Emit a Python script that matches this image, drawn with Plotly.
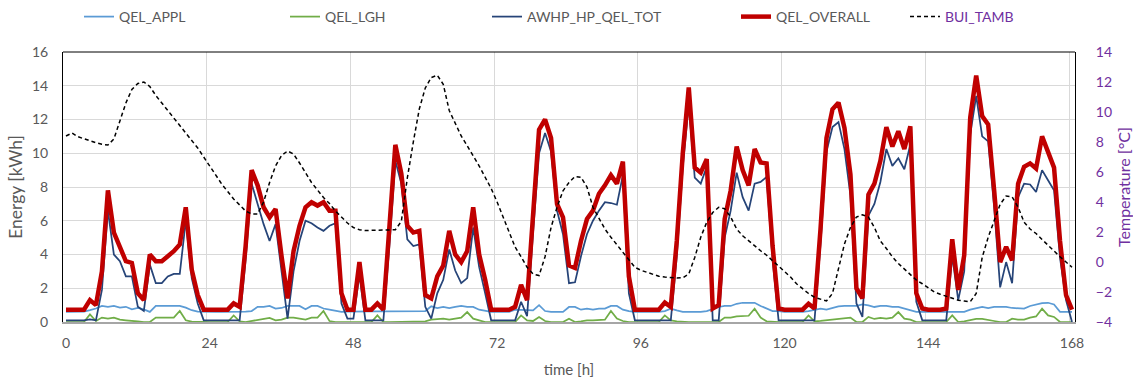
import plotly.graph_objects as go

hours = list(range(0, 169))

qel_appl = [0.6, 0.6, 0.6, 0.62, 0.7, 0.8, 0.95, 0.9, 0.95, 0.85, 0.9, 0.75, 0.83, 0.75, 0.6, 0.95, 0.95, 0.95, 0.95, 0.95, 0.85, 0.7, 0.62, 0.6,
            0.6, 0.6, 0.6, 0.6, 0.6, 0.6, 0.62, 0.65, 0.9, 0.9, 0.95, 0.8, 0.83, 0.95, 0.95, 0.95, 0.75, 0.95, 0.95, 0.8, 0.73, 0.65, 0.6, 0.62,
            0.63, 0.63, 0.63, 0.63, 0.63, 0.63, 0.63, 0.63, 0.63, 0.63, 0.63, 0.63, 0.65, 0.93, 0.83, 0.89, 0.83, 0.89, 0.95, 0.89, 0.89, 0.73, 0.65, 0.6,
            0.6, 0.6, 0.6, 0.73, 0.73, 0.73, 0.69, 1.0, 0.65, 0.6, 0.6, 0.6, 0.89, 0.89, 0.73, 0.79, 0.73, 0.79, 0.79, 0.95, 0.95, 0.73, 0.65, 0.6,
            0.6, 0.6, 0.6, 0.6, 0.65, 0.79, 0.69, 0.6, 0.6, 0.6, 0.6, 0.65, 0.79, 0.89, 0.95, 0.95, 1.08, 1.14, 1.14, 1.14, 0.95, 0.79, 0.65, 0.65,
            0.6, 0.6, 0.6, 0.6, 0.65, 0.73, 0.79, 0.73, 0.83, 0.93, 0.95, 0.95, 0.95, 1.04, 0.99, 0.89, 0.95, 0.95, 0.89, 0.89, 0.79, 0.69, 0.6, 0.6,
            0.6, 0.6, 0.6, 0.6, 0.6, 0.6, 0.6, 0.73, 0.83, 0.89, 0.83, 0.89, 0.89, 0.89, 0.83, 0.79, 0.79, 0.95, 1.04, 1.12, 1.14, 1.04, 0.6, 0.6,
            0.6]

qel_lgh = [0, 0, 0, 0, 0.45, 0.06, 0.26, 0.2, 0.26, 0.14, 0.1, 0.05, 0.03, 0, 0, 0.26, 0.26, 0.26, 0.26, 0.65, 0.1, 0.02, 0, 0,
           0, 0, 0, 0, 0.39, 0.04, 0, 0.06, 0.1, 0.18, 0.24, 0.1, 0.14, 0.26, 0.26, 0.2, 0.14, 0.26, 0.26, 0.65, 0.06, 0, 0, 0,
           0, 0, 0, 0, 0.39, 0, 0, 0, 0, 0, 0, 0.04, 0.04, 0.14, 0.18, 0.2, 0.14, 0.2, 0.26, 0.59, 0.2, 0.1, 0, 0,
           0, 0, 0, 0, 0.39, 0.1, 0.06, 0.3, 0.06, 0, 0, 0, 0.2, 0, 0.04, 0.1, 0.1, 0.1, 0.14, 0.65, 0.2, 0.06, 0, 0,
           0, 0, 0, 0, 0.39, 0.1, 0.04, 0, 0, 0, 0, 0, 0, 0, 0.26, 0.26, 0.33, 0.37, 0.37, 0.79, 0.26, 0.04, 0, 0,
           0, 0, 0, 0, 0.39, 0.04, 0.06, 0.1, 0.14, 0.2, 0.26, 0.26, 0, 0, 0.3, 0.18, 0.24, 0.2, 0.26, 0.59, 0.2, 0.14, 0, 0,
           0, 0, 0, 0, 0.39, 0, 0.04, 0.1, 0.18, 0.18, 0.14, 0.06, 0, 0, 0.2, 0.14, 0.14, 0.26, 0.33, 0.79, 0.39, 0.3, 0, 0,
           0]

awhp_hp_qel_tot = [0.1, 0.1, 0.1, 0.1, 0.15, 0.1, 1.9, 6.6, 4.0, 3.6, 2.7, 2.7, 0.9, 0.65, 3.4, 2.3, 2.3, 2.7, 2.85, 2.85, 6.0, 2.6, 1.1, 0.1,
                   0.1, 0.1, 0.1, 0.1, 0.1, 0.1, 3.7, 8.2, 7.0, 5.8, 4.8, 5.8, 3.0, 0.2, 3.0, 4.8, 6.0, 5.85, 5.6, 5.4, 5.7, 5.85, 1.1, 0.2,
                   0.2, 2.8, 0.1, 0.1, 0.1, 0.1, 4.5, 9.55, 8.2, 4.9, 4.5, 4.6, 0.9, 0.2, 1.7, 2.5, 4.3, 3.05, 2.3, 2.6, 5.6, 3.25, 1.7, 0.1,
                   0.1, 0.1, 0.1, 0.1, 1.2, 0.35, 5.3, 10.0, 11.2, 10.1, 6.6, 5.2, 2.3, 2.35, 3.9, 5.2, 6.0, 6.6, 7.1, 7.05, 6.95, 8.7, 1.7, 0.1,
                   0.1, 0.1, 0.1, 0.1, 0.1, 0.1, 3.9, 9.2, 12.9, 8.55, 8.2, 9.2, 0.1, 0.1, 5.0, 6.6, 8.85, 7.4, 6.6, 8.2, 8.3, 8.6, 3.7, 0.1,
                   0.1, 0.1, 0.1, 0.1, 0.1, 0.1, 4.6, 10.1, 11.55, 11.85, 10.25, 7.5, 1.1, 0.3, 6.3, 7.0, 8.3, 10.25, 9.25, 9.7, 9.05, 10.5, 1.2, 0.1,
                   0.1, 0.1, 0.1, 0.1, 3.9, 1.3, 3.0, 11.1, 13.4, 11.0, 10.7, 6.8, 2.05, 3.55, 2.3, 7.4, 8.2, 8.15, 7.7, 9.0, 8.4, 7.8, 3.8, 1.3,
                   0.0]

qel_overall = [0.73, 0.73, 0.73, 0.73, 1.3, 1.0, 3.0, 7.8, 5.3, 4.4, 3.6, 3.5, 1.7, 1.3, 4.0, 3.6, 3.6, 3.9, 4.2, 4.6, 6.8, 3.1, 1.6, 0.73,
               0.73, 0.73, 0.73, 0.73, 1.1, 0.9, 4.5, 9.0, 8.1, 6.8, 6.2, 6.7, 3.9, 1.4, 4.2, 5.7, 6.8, 7.1, 6.9, 7.1, 6.6, 6.6, 1.7, 0.73,
               0.73, 3.55, 0.73, 0.73, 1.1, 0.73, 5.6, 10.5, 8.8, 5.7, 5.3, 5.4, 1.6, 1.4, 2.7, 3.35, 5.4, 4.0, 3.55, 4.2, 6.8, 4.0, 2.5, 0.73,
               0.73, 0.73, 0.73, 0.9, 2.2, 1.3, 6.3, 11.4, 12.0, 10.9, 7.0, 6.2, 3.35, 3.2, 4.8, 6.1, 6.6, 7.6, 8.1, 8.7, 8.2, 9.5, 2.7, 0.73,
               0.73, 0.73, 0.73, 0.73, 1.15, 0.9, 4.8, 10.0, 13.9, 9.15, 8.85, 9.65, 0.8, 1.0, 6.1, 7.8, 10.4, 9.0, 8.1, 10.25, 9.45, 9.4, 4.5, 0.8,
               0.73, 0.73, 0.73, 0.73, 1.08, 0.8, 5.5, 10.9, 12.6, 13.0, 11.5, 8.75, 2.0, 1.4, 7.55, 8.2, 9.55, 11.55, 10.4, 11.3, 10.25, 11.6, 1.7, 0.8,
               0.73, 0.73, 0.73, 0.8, 4.9, 1.9, 3.95, 12.1, 14.6, 12.2, 11.7, 7.8, 3.55, 4.45, 3.65, 8.2, 9.2, 9.4, 9.1, 11.0, 10.05, 9.15, 4.8, 1.6,
               0.73]

bui_tamb = [8.4, 8.6, 8.35, 8.2, 8.05, 7.95, 7.85, 7.8, 8.2, 9.4, 10.6, 11.5, 11.9, 12.0, 11.7, 11.1, 10.6, 10.1, 9.6, 9.1, 8.6, 8.1, 7.6, 7.0,
            6.4, 5.8, 5.2, 4.7, 4.2, 3.8, 3.4, 3.2, 3.2, 4.0, 5.3, 6.4, 7.1, 7.4, 7.2, 6.6, 5.9, 5.3, 4.8, 4.3, 3.9, 3.4, 3.0, 2.6,
            2.3, 2.15, 2.1, 2.1, 2.1, 2.1, 2.1, 2.15, 2.7, 5.6, 8.0, 10.2, 11.6, 12.3, 12.45, 11.85, 10.1, 9.2, 8.4, 7.75, 7.1, 6.4, 5.65, 4.9,
            4.0, 3.0, 1.9, 1.0, 0.35, -0.35, -0.8, -0.9, 0.35, 2.3, 3.65, 4.75, 5.3, 5.7, 5.65, 5.0, 3.65, 2.9, 2.2, 1.65, 1.15, 0.65, 0.2, -0.35,
            -0.55, -0.7, -0.85, -0.95, -1.0, -1.05, -1.07, -1.05, -0.8, 0.3, 1.65, 2.65, 3.3, 3.65, 3.55, 3.0, 2.2, 1.75, 1.4, 1.1, 0.75, 0.45, 0.1, -0.3,
            -0.6, -1.0, -1.45, -1.8, -2.1, -2.35, -2.5, -2.6, -2.1, -0.35, 1.2, 2.3, 3.0, 3.15, 3.0, 2.3, 1.4, 0.9, 0.35, -0.1, -0.45, -0.8, -1.2, -1.45,
            -1.75, -2.0, -2.15, -2.3, -2.45, -2.55, -2.6, -2.65, -2.1, 0.3, 1.65, 2.75, 3.85, 4.4, 4.35, 3.65, 2.65, 2.2, 1.9, 1.5, 1.1, 0.75, 0.35, 0.0,
            -0.35]

x_ticks = [0, 24, 48, 72, 96, 120, 144, 168]
y_ticks = [0, 2, 4, 6, 8, 10, 12, 14, 16]
y2_ticks = [-4, -2, 0, 2, 4, 6, 8, 10, 12, 14]

FONT = "Lato"
GREY = "#595959"
PURPLE = "#7030A0"

fig = go.Figure()
fig.add_trace(go.Scatter(x=hours, y=qel_appl, name="QEL_APPL", mode="lines",
                         line=dict(color="#5B9BD5", width=1.75), legend="legend"))
fig.add_trace(go.Scatter(x=hours, y=qel_lgh, name="QEL_LGH", mode="lines",
                         line=dict(color="#70AD47", width=1.75), legend="legend2"))
fig.add_trace(go.Scatter(x=hours, y=awhp_hp_qel_tot, name="AWHP_HP_QEL_TOT", mode="lines",
                         line=dict(color="#264478", width=1.75), legend="legend3"))
fig.add_trace(go.Scatter(x=hours, y=qel_overall, name="QEL_OVERALL", mode="lines",
                         line=dict(color="#C00000", width=4.5), legend="legend4"))
fig.add_trace(go.Scatter(x=hours, y=bui_tamb, name="BUI_TAMB", mode="lines", yaxis="y2",
                         line=dict(color="#000000", width=1.5, dash="4px,3px"), legend="legend5"))

plot_w = 1133 - 63 - 58
plot_h = 378 - 52 - 56
grid_x = [t - 0.5 for t in x_ticks[1:]]

def leg(px, color=GREY):
    return dict(x=(px - 63) / plot_w, xanchor="left", y=1 + 35 / plot_h, yanchor="middle",
                orientation="h", bgcolor="rgba(0,0,0,0)",
                font=dict(family=FONT, size=14, color=color))

fig.update_layout(
    width=1133, height=378,
    margin=dict(l=63, r=58, t=52, b=56, autoexpand=False),
    paper_bgcolor="white", plot_bgcolor="white",
    font=dict(family=FONT, size=14, color=GREY),
    showlegend=True,
    legend=leg(79), legend2=leg(285), legend3=leg(487), legend4=leg(736), legend5=leg(905, PURPLE),
    xaxis=dict(range=[-0.5, 168.5], tickvals=x_ticks, ticks="", showgrid=False, zeroline=False,
               showline=True, linecolor="#A6A6A6", linewidth=1.5,
               minor=dict(tickvals=grid_x, showgrid=True, gridcolor="#D9D9D9", gridwidth=1, ticks=""),
               ticklabelstandoff=7,
               tickfont=dict(family=FONT, size=14, color=GREY),
               title=dict(text="time [h]", font=dict(family=FONT, size=15, color=GREY), standoff=17)),
    yaxis=dict(range=[0, 16], tickvals=y_ticks, showgrid=True, gridcolor="#D9D9D9", gridwidth=1,
               zeroline=False, showline=True, linecolor="#000000", linewidth=1, ticks="",
               ticklabelstandoff=11,
               tickfont=dict(family=FONT, size=14, color=GREY),
               title=dict(text="Energy [kWh]", font=dict(family=FONT, size=17.5, color=GREY), standoff=4)),
    yaxis2=dict(range=[-4, 14], tickvals=y2_ticks, overlaying="y", side="right", showgrid=False,
                zeroline=False, showline=True, linecolor="#000000", linewidth=1, ticks="",
                ticklabelstandoff=17,
                tickfont=dict(family=FONT, size=14, color=PURPLE),
                title=dict(text="Temperature [°C]", font=dict(family=FONT, size=16, color=PURPLE), standoff=10)),
    shapes=[dict(type="line", xref="paper", yref="paper", x0=0, x1=1, y0=1, y1=1,
                 line=dict(color="#000000", width=1))],
)

fig.write_html("out.html")
